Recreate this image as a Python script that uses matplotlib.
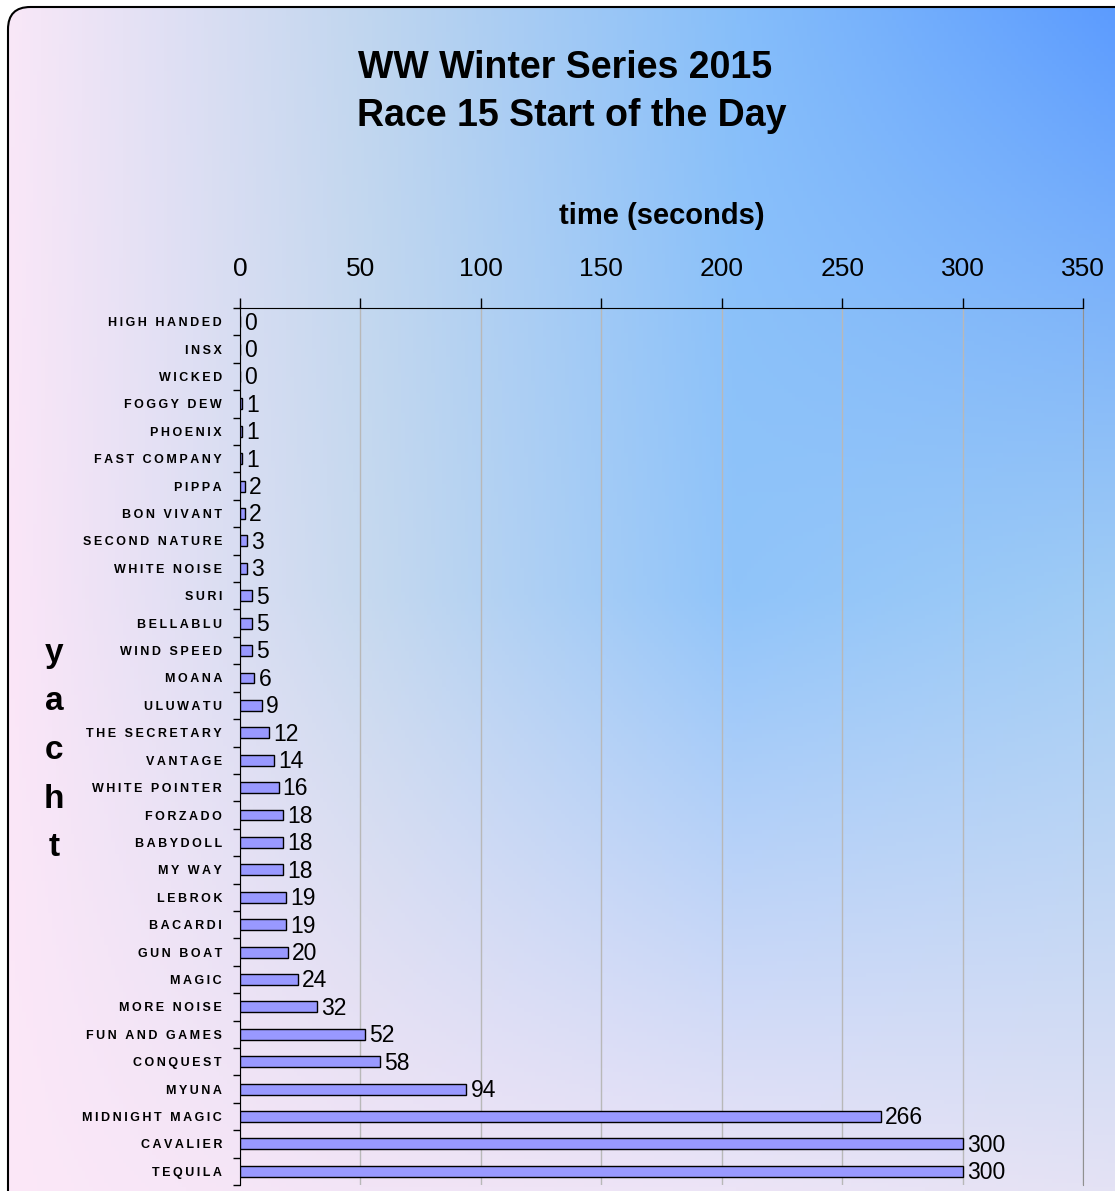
import matplotlib
matplotlib.use('Agg')
import matplotlib.pyplot as plt
from matplotlib.patches import FancyBboxPatch
from matplotlib.ticker import FixedLocator
import numpy as np

plt.rcParams['font.family'] = ['Liberation Sans', 'DejaVu Sans']

# data, top to bottom as in the chart
yachts = ['HIGH HANDED', 'INSX', 'WICKED', 'FOGGY DEW', 'PHOENIX', 'FAST COMPANY',
          'PIPPA', 'BON VIVANT', 'SECOND NATURE', 'WHITE NOISE', 'SURI', 'BELLABLU',
          'WIND SPEED', 'MOANA', 'ULUWATU', 'THE SECRETARY', 'VANTAGE', 'WHITE POINTER',
          'FORZADO', 'BABYDOLL', 'MY WAY', 'LEBROK', 'BACARDI', 'GUN BOAT', 'MAGIC',
          'MORE NOISE', 'FUN AND GAMES', 'CONQUEST', 'MYUNA', 'MIDNIGHT MAGIC',
          'CAVALIER', 'TEQUILA']
seconds = [0, 0, 0, 1, 1, 1, 2, 2, 3, 3, 5, 5, 5, 6, 9, 12, 14, 16, 18, 18, 18,
           19, 19, 20, 24, 32, 52, 58, 94, 266, 300, 300]
xticks = [0, 50, 100, 150, 200, 250, 300, 350]

W, H = 1115, 1191
fig = plt.figure(figsize=(W / 100, H / 100), dpi=100)
fig.patch.set_facecolor('white')

# background gradient (bilinear between a few sampled colours), row 0 = top
def hx(c):
    return [int(c[i:i + 2], 16) / 255 for i in (1, 3, 5)]

gx = [0.0, 0.33, 0.66, 1.0]
gy = [0.0, 0.5, 1.0]
grid = np.array([
    [hx('#FAE8F8'), hx('#C0D6EF'), hx('#86BEFA'), hx('#5B9BFF')],
    [hx('#FCE6F8'), hx('#C6D9EF'), hx('#90C4FA'), hx('#A0CCF5')],
    [hx('#FCE8F8'), hx('#F2E4F6'), hx('#ECE4F6'), hx('#E4E2F4')],
])
xs = np.linspace(0, 1, 300)
ys = np.linspace(0, 1, 300)
rows = np.stack([np.stack([np.interp(xs, gx, grid[r, :, c]) for c in range(3)], -1)
                 for r in range(3)])
img = np.stack([np.stack([np.interp(ys, gy, rows[:, j, c]) for c in range(3)], -1)
                for j in range(300)], 1)

bg = fig.add_axes([0, 0, 1, 1], zorder=-5)
bg.axis('off')
im = bg.imshow(img, extent=[0, 1, 0, 1], aspect='auto', origin='upper')
bg.set_xlim(0, 1)
bg.set_ylim(0, 1)
box = FancyBboxPatch((8 / W, -0.05), 1.05, 0.05 + 1 - 7 / H,
                     boxstyle='round,pad=0,rounding_size=0.02',
                     mutation_aspect=W / H, fc='none', ec='black', lw=1.5,
                     transform=bg.transAxes)
bg.add_patch(box)
im.set_clip_path(box)

# main axes
ax = fig.add_axes([240 / W, 1 - 1185 / H, (1083 - 240) / W, (1185 - 308) / H])
ax.patch.set_alpha(0)
pos = np.arange(len(yachts))
ax.barh(pos, seconds, height=0.4, color='#9999FF', edgecolor='black', lw=1, zorder=3)
for p, v in zip(pos, seconds):
    ax.annotate(str(v), (v, p), xytext=(3, -1), textcoords='offset points',
                ha='left', va='center', fontsize=16.5, zorder=4)

ax.set_xlim(0, 350)
ax.set_ylim(len(yachts) - 0.5, -0.5)
ax.xaxis.tick_top()
ax.xaxis.set_label_position('top')
ax.set_xticks(xticks)
ax.set_xticklabels([str(t) for t in xticks], fontsize=19)
ax.tick_params(axis='x', direction='out', length=7, width=1, pad=12.5)
ax.set_xlabel('time (seconds)', fontsize=21, fontweight='bold', labelpad=23.5)

# spaced-out capitals like the original
spaced = ['\u2009'.join(name) for name in yachts]
ax.set_yticks(pos)
ax.set_yticklabels(spaced, fontsize=9.0, fontweight='bold')
ax.tick_params(axis='y', which='major', length=0, pad=13)
ax.yaxis.set_minor_locator(FixedLocator(np.arange(-0.5, len(yachts), 1)))
ax.tick_params(axis='y', which='minor', direction='out', length=5, width=1)

ax.grid(axis='x', color='#B8B8B8', lw=1, zorder=0)
ax.spines['left'].set_color('black')
ax.spines['top'].set_color('black')
ax.spines['right'].set_color('#909090')
ax.spines['bottom'].set_visible(False)

ax.set_ylabel('y\na\nc\nh\nt', rotation=0, fontsize=24, fontweight='bold',
              linespacing=1.73, va='center', ha='center')
ax.yaxis.set_label_coords((54 - 240) / (1083 - 240), 0.5 - 4 / (1185 - 308))

fig.text(565 / W, 1 - 68 / H, 'WW Winter Series 2015',
         ha='center', va='center', fontsize=27, fontweight='bold')
fig.text(572 / W, 1 - 116 / H, 'Race 15 Start of the Day',
         ha='center', va='center', fontsize=27, fontweight='bold')

fig.savefig('out.png', dpi=100)
